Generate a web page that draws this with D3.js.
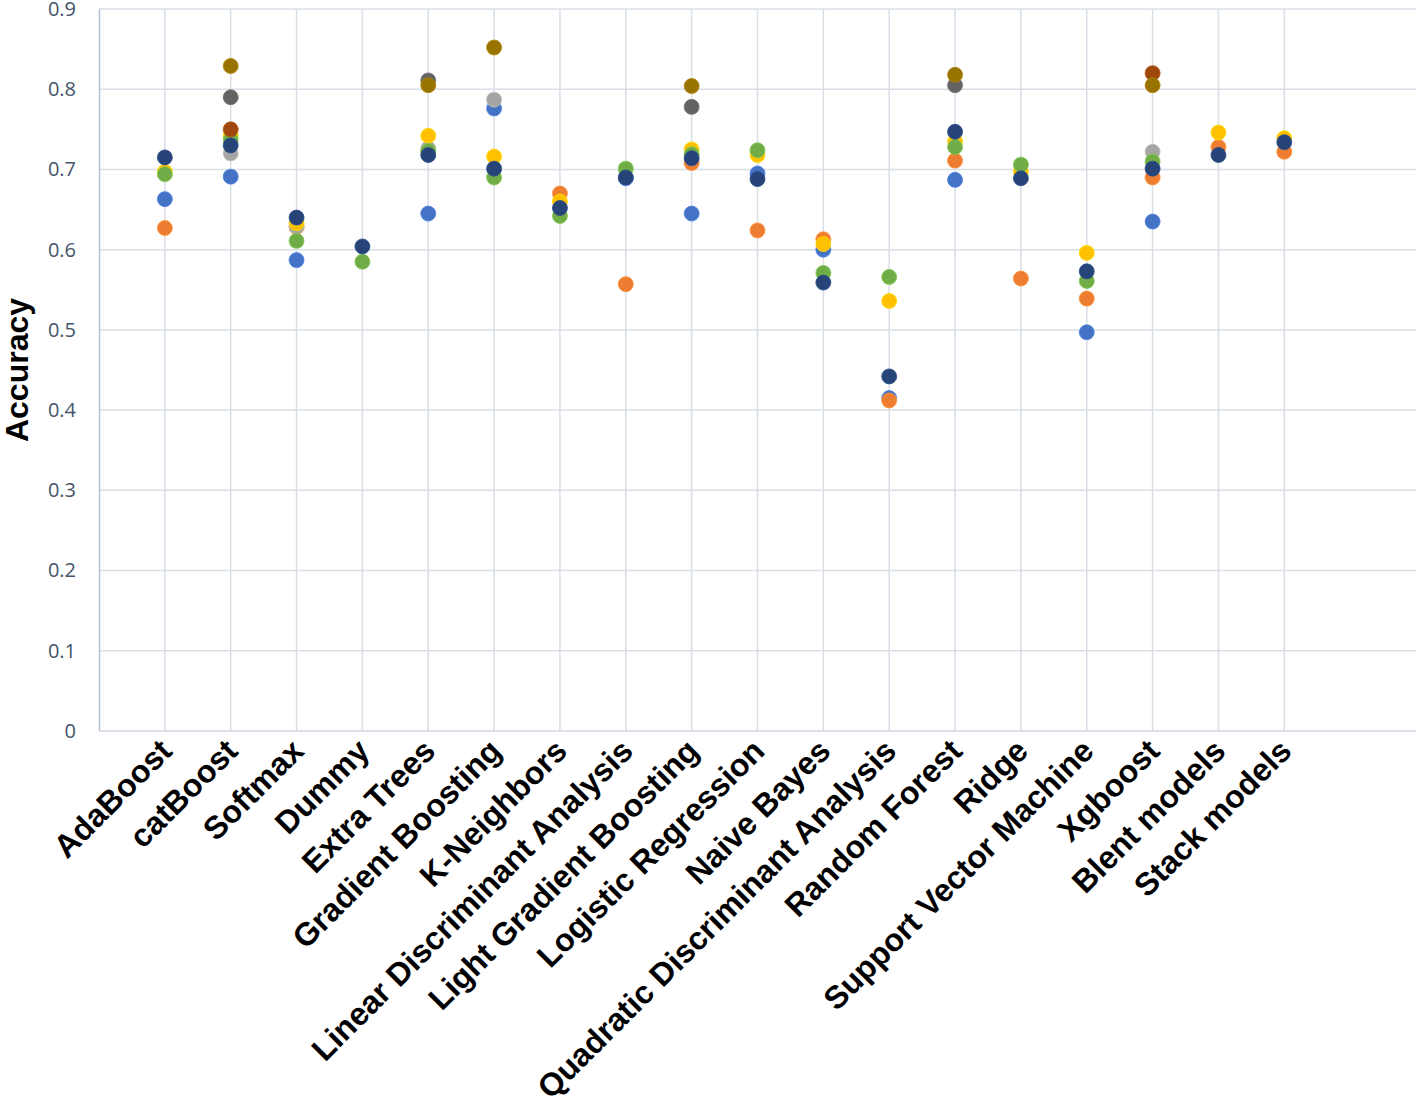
<!DOCTYPE html>
<html>
<head>
  <meta charset="utf-8">
  <title>Model accuracy</title>
  <script src="https://d3js.org/d3.v7.min.js"></script>
  <style>
    body { margin: 0; background: #fff; }
    .tick text { font-family: "Open Sans", sans-serif; }
  </style>
</head>
<body>
<script>
// categories along the x axis (placed at 1..18 on a 0..20 axis)
var models = ["AdaBoost", "catBoost", "Softmax", "Dummy", "Extra Trees", "Gradient Boosting",
  "K-Neighbors", "Linear Discriminant Analysis", "Light Gradient Boosting", "Logistic Regression",
  "Naive Bayes", "Quadratic Discriminant Analysis", "Random Forest", "Ridge",
  "Support Vector Machine", "Xgboost", "Blent models", "Stack models"];

var yTicks = [0, 0.1, 0.2, 0.3, 0.4, 0.5, 0.6, 0.7, 0.8, 0.9];

// one array per series, same order as models (null = no point)
var s1 = [0.663, 0.691, 0.587, null, 0.645, 0.776, null, 0.689, 0.645, 0.695, 0.600, 0.415, 0.687, null, 0.497, 0.635, null, null];
var s2 = [0.627, null, 0.628, null, null, null, 0.670, 0.557, 0.708, 0.624, 0.613, 0.412, 0.711, 0.564, 0.539, 0.690, 0.728, 0.722];
var s3 = [null, 0.720, 0.629, null, 0.726, 0.787, null, null, null, null, null, null, null, null, null, 0.722, null, null];
var s4 = [0.697, 0.742, 0.633, null, 0.742, 0.716, 0.660, null, 0.725, 0.718, 0.607, 0.536, 0.735, 0.697, 0.596, null, 0.746, 0.739];
var s5 = [0.694, 0.737, 0.611, 0.585, 0.723, 0.690, 0.642, 0.701, 0.719, 0.724, 0.571, 0.566, 0.728, 0.706, 0.561, 0.710, null, null];
var s6 = [0.715, 0.730, 0.640, 0.604, 0.718, 0.701, 0.652, 0.690, 0.714, 0.688, 0.559, 0.442, 0.747, 0.689, 0.573, 0.701, 0.718, 0.734];
var s7 = [null, 0.750, null, null, null, null, null, null, null, null, null, null, null, null, null, 0.820, null, null];
var s8 = [null, 0.790, null, null, 0.811, null, null, null, 0.778, null, null, null, 0.805, null, null, null, null, null];
var s9 = [null, 0.829, null, null, 0.805, 0.852, null, null, 0.804, null, null, null, 0.818, null, null, 0.805, null, null];

var series = [s1, s2, s3, s4, s5, s6, s7, s8, s9];
var colors = ["#4472C4", "#ED7D31", "#A5A5A5", "#FFC000", "#70AD47", "#264478", "#9E480E", "#636363", "#997300"];

var width = 1416, height = 1097;
var margin = {top: 9, right: 0, bottom: 366, left: 99};

var svg = d3.select("body").append("svg")
  .attr("width", width)
  .attr("height", height);

var x = d3.scaleLinear()
  .domain([0, 20])
  .range([margin.left, width - margin.right]);

var y = d3.scaleLinear()
  .domain([0, 0.9])
  .range([height - margin.bottom, margin.top]);

var grid = svg.append("g").attr("id", "grid");

grid.selectAll("line.h")
  .data(yTicks.slice(1))
  .enter()
  .append("line")
    .attr("class", "h")
    .attr("x1", margin.left).attr("x2", width)
    .attr("y1", d => y(d)).attr("y2", d => y(d))
    .attr("stroke", "#D9DEE7")
    .attr("stroke-width", 1.5);

grid.selectAll("line.v")
  .data(models.map((d, i) => i + 1))
  .enter()
  .append("line")
    .attr("class", "v")
    .attr("x1", d => x(d)).attr("x2", d => x(d))
    .attr("y1", margin.top).attr("y2", y(0))
    .attr("stroke", "#D9DEE7")
    .attr("stroke-width", 1.5);

// axes
var yAxis = svg.append("g")
  .attr("transform", "translate(" + margin.left + ",0)")
  .call(d3.axisLeft(y).tickValues(yTicks).tickSize(0).tickPadding(23)
    .tickFormat(d => d === 0 ? "0" : d3.format(".1f")(d)));
yAxis.select(".domain").attr("stroke", "#B4BFCF").attr("stroke-width", 1.5);
yAxis.selectAll("text").attr("font-size", 20).attr("fill", "#44546A");

svg.append("line")
  .attr("x1", margin.left).attr("x2", width)
  .attr("y1", y(0)).attr("y2", y(0))
  .attr("stroke", "#D0D6E0")
  .attr("stroke-width", 1.5);

// category labels
svg.append("g").selectAll("text")
  .data(models)
  .enter()
  .append("text")
    .attr("transform", (d, i) => "translate(" + (x(i + 1) + 1) + "," + (y(0) + 14) + ") rotate(-45)")
    .attr("text-anchor", "end")
    .attr("dy", "0.35em")
    .attr("font-family", "'Liberation Sans', Arial, sans-serif")
    .attr("font-weight", "bold")
    .attr("font-size", 32)
    .attr("fill", "#000")
    .text(d => d);

svg.append("text")
  .attr("transform", "translate(28," + y(0.45) + ") rotate(-90)")
  .attr("text-anchor", "middle")
  .attr("font-family", "'Liberation Sans', Arial, sans-serif")
  .attr("font-weight", "bold")
  .attr("font-size", 32)
  .text("Accuracy");

// points, series in order so later ones sit on top
var points = svg.append("g").attr("id", "points");
series.forEach(function(vals, k) {
  points.append("g").selectAll("circle")
    .data(vals.map((v, i) => ({i: i + 1, v: v})).filter(d => d.v !== null))
    .enter()
    .append("circle")
      .attr("cx", d => x(d.i))
      .attr("cy", d => y(d.v))
      .attr("r", 7.5)
      .attr("fill", colors[k])
      .attr("stroke", d3.color(colors[k]).brighter(0.4))
      .attr("stroke-width", 0.8);
});
</script>
</body>
</html>
